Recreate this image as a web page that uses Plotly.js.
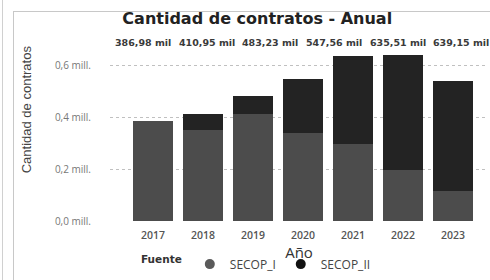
<!DOCTYPE html>
<html><head><meta charset="utf-8">
<script src="https://cdn.plot.ly/plotly-3.0.1.min.js"></script>
<style>
html,body{margin:0;padding:0;background:#fff;}
#wrap{position:relative;width:490px;height:280px;overflow:hidden;}
#frame{position:absolute;left:13px;top:11px;width:490px;height:280px;border-left:1px solid #c8c8c8;border-top:1px solid #c8c8c8;}
#edge{position:absolute;left:2px;top:0;width:0;height:280px;border-left:1px solid #d0d0d0;}
#chart{position:absolute;left:0;top:0;width:490px;height:280px;}
</style></head>
<body><div id="wrap"><div id="edge"></div><div id="frame"></div><div id="chart"></div></div>
<script>
// Data (thousands of contracts)
const years = ['2017','2018','2019','2020','2021','2022','2023'];
const secopI  = [386.98, 353.00, 412.00, 338.00, 297.00, 196.00, 116.00];
const secopII = [0.00,   57.95,  71.23,  209.56, 338.51, 443.15, 426.00];
const yTickVals = [0, 0.2, 0.4, 0.6];
const yTickText = ['0,0 mill.', '0,2 mill.', '0,4 mill.', '0,6 mill.'];

const colI = '#4c4c4c', colII = '#232323';
const toMill = a => a.map(v => v / 1000);
const totals = secopI.map((v, i) => v + secopII[i]);
const fmt = v => v.toFixed(2).replace('.', ',') + ' mil';
const idx = years.map((_, i) => i);

const yMax = 0.652;
const traces = [
  {type:'bar', name:'SECOP_I', x: years, y: toMill(secopI), marker:{color:colI},
   hoverinfo:'skip', showlegend:false},
  {type:'bar', name:'SECOP_II', x: years, y: toMill(secopII), marker:{color:colII},
   hoverinfo:'skip', showlegend:false},
  // legend entries (circle symbols)
  {type:'scatter', mode:'markers', name:'SECOP_I', x: years, y: years.map(() => null),
   marker:{color:'#5a5a5a', symbol:'circle', size:10}, hoverinfo:'skip'},
  {type:'scatter', mode:'markers', name:'SECOP_II', x: years, y: years.map(() => null),
   marker:{color:'#111', symbol:'circle', size:10}, hoverinfo:'skip'},
  // anchor for the label scale
  {type:'scatter', mode:'none', xaxis:'x2', yaxis:'y', x: idx, y: years.map(() => null),
   showlegend:false, hoverinfo:'skip'}
];

const labelAnn = totals.map((t, i) => ({
  text: fmt(t), xref:'x2', yref:'paper', x: i, y: 1.055, showarrow:false,
  xanchor:'center', yanchor:'middle',
  font:{family:'DejaVu Sans, sans-serif', size:9.5, color:'#3a3a3a', weight:700}
}));

const layout = {
  width:490, height:280,
  margin:{l:110, r:2, t:52, b:52},
  paper_bgcolor:'rgba(0,0,0,0)', plot_bgcolor:'rgba(0,0,0,0)',
  barmode:'stack', bargap:0.2,
  showlegend:true,
  title:{text:'Cantidad de contratos - Anual', x:0.525, xanchor:'center', y:0.933, yanchor:'middle',
         font:{family:'DejaVu Sans, sans-serif', size:16, color:'#222', weight:700}},
  xaxis:{type:'category', range:[-0.86, 6.7], showgrid:false, zeroline:false, showline:false,
         ticks:'', ticklabelstandoff:6,
         tickfont:{family:'Open Sans, sans-serif', size:10.5, color:'#555', weight:600},
         title:{text:'Año', standoff:6, font:{family:'Open Sans, sans-serif', size:15, color:'#333'}}},
  xaxis2:{type:'linear', overlaying:'x', anchor:'y', range:[-0.52, 5.42], visible:false},
  yaxis:{range:[0, yMax], tickvals:yTickVals, ticktext:yTickText, showgrid:true,
         gridcolor:'#c0c0c0', griddash:'dot', gridwidth:1, zeroline:false, showline:false,
         ticks:'', ticklabelstandoff:18,
         tickfont:{family:'Open Sans, sans-serif', size:10, color:'#777'}},
  legend:{orientation:'h', x:0.39, xanchor:'center', y:-0.255, yanchor:'middle',
          title:{text:'Fuente', side:'left', font:{family:'DejaVu Sans, sans-serif', size:10.5, color:'#333', weight:700}},
          font:{family:'Open Sans, sans-serif', size:12, color:'#444'},
          itemwidth:30, traceorder:'normal', tracegroupgap:0},
  annotations:[{text:'Cantidad de contratos', xref:'paper', yref:'paper', x:-0.22, y:0.66,
                textangle:-90, showarrow:false, xanchor:'center', yanchor:'middle',
                font:{family:'Liberation Sans Narrow, Liberation Sans, sans-serif', size:13, color:'#444'}}]
    .concat(labelAnn)
};
Plotly.newPlot('chart', traces, layout, {displayModeBar:false, staticPlot:true});
</script></body></html>
